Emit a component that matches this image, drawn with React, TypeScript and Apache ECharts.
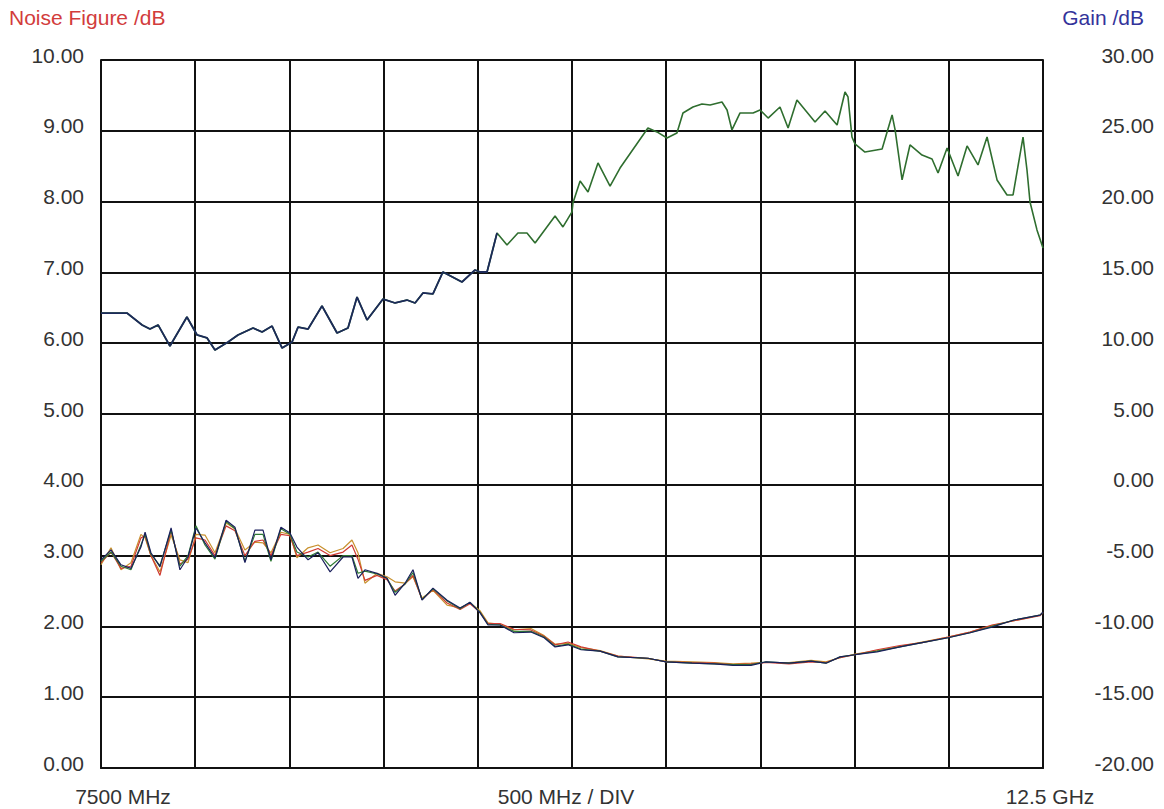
import React, { useEffect, useRef } from "react";
import * as echarts from "echarts";

// Noise figure traces (left axis, dB) on a shared frequency grid (MHz)
const nfFreqs = [7500,7553,7606,7659,7712,7734,7765,7813,7872,7919,7962,8004,8052,8105,8164,8211,8264,8317,8360,8402,8455,8503,8540,8599,8652,8716,8785,8832,8864,8901,8965,9018,9061,9114,9156,9204,9262,9337,9406,9459,9512,9554,9618,9692,9782,9852,9910,9979,10048,10149,10244,10403,10499,10637,10754,10855,10950,11030,11152,11269,11348,11423,11502,11619,11741,11858,11996,12113,12229,12346,12484,12500];
const nfNavy = [2.94,3.08,2.87,2.82,3.12,3.33,3.04,2.84,3.39,2.80,2.98,3.39,3.18,2.97,3.50,3.40,2.90,3.36,3.36,2.94,3.40,3.32,3.12,2.94,3.04,2.77,2.98,2.98,2.68,2.80,2.75,2.68,2.44,2.61,2.80,2.37,2.54,2.37,2.26,2.34,2.19,2.02,2.02,1.91,1.92,1.84,1.71,1.74,1.67,1.65,1.57,1.55,1.50,1.48,1.47,1.45,1.45,1.50,1.48,1.51,1.48,1.57,1.60,1.64,1.71,1.77,1.84,1.91,1.99,2.09,2.16,2.20];
const nfOrange = [2.87,3.11,2.80,2.90,3.30,3.25,3.00,2.77,3.29,2.94,2.90,3.30,3.29,3.04,3.46,3.38,3.08,3.19,3.18,3.04,3.33,3.30,2.97,3.11,3.15,3.04,3.10,3.22,3.04,2.61,2.75,2.70,2.63,2.61,2.70,2.40,2.51,2.30,2.26,2.33,2.22,2.05,2.03,1.95,1.97,1.87,1.75,1.76,1.70,1.66,1.58,1.54,1.51,1.50,1.49,1.47,1.48,1.49,1.49,1.52,1.50,1.56,1.61,1.66,1.72,1.78,1.85,1.92,2.01,2.08,2.16,2.19];
const nfRed = [2.90,3.05,2.82,2.85,3.25,3.28,3.00,2.72,3.35,2.88,2.95,3.25,3.22,3.00,3.42,3.35,3.00,3.20,3.22,3.00,3.30,3.28,3.00,3.05,3.10,3.00,3.05,3.15,2.95,2.65,2.72,2.66,2.50,2.60,2.72,2.38,2.52,2.33,2.24,2.32,2.20,2.04,2.04,1.96,1.95,1.86,1.74,1.78,1.71,1.65,1.58,1.55,1.50,1.49,1.48,1.46,1.47,1.49,1.47,1.50,1.49,1.56,1.60,1.67,1.73,1.77,1.85,1.92,2.02,2.08,2.15,2.20];
const nfGreen = [2.92,3.05,2.85,2.80,3.15,3.30,3.02,2.86,3.36,2.85,3.00,3.42,3.15,2.95,3.48,3.38,2.92,3.30,3.30,2.92,3.38,3.30,3.05,2.98,3.05,2.85,3.00,3.00,2.75,2.78,2.74,2.68,2.48,2.60,2.76,2.38,2.53,2.36,2.25,2.34,2.20,2.03,2.02,1.93,1.93,1.85,1.72,1.75,1.68,1.65,1.57,1.55,1.50,1.48,1.47,1.46,1.46,1.50,1.48,1.51,1.48,1.57,1.60,1.65,1.71,1.77,1.84,1.91,2.00,2.09,2.16,2.20];

// Gain trace (right axis, dB)
const gainFreqs = [7500,7638,7718,7760,7803,7866,7956,8010,8063,8105,8174,8227,8307,8355,8408,8461,8514,8546,8599,8673,8753,8811,8859,8912,8997,9061,9124,9167,9209,9262,9315,9416,9485,9512,9549,9602,9655,9713,9761,9804,9910,9952,10000,10005,10043,10085,10138,10202,10255,10403,10451,10504,10557,10589,10642,10690,10733,10796,10823,10849,10892,10961,10998,11041,11104,11147,11194,11290,11343,11407,11449,11465,11486,11502,11555,11646,11699,11715,11752,11794,11858,11911,11943,11991,12049,12097,12155,12203,12256,12309,12341,12394,12415,12431,12468,12500];
const gainValues = [12.13,12.13,11.29,11.0,11.29,9.80,11.85,10.58,10.37,9.52,10.08,10.58,11.07,10.79,11.21,9.66,10.08,11.14,11.0,12.63,10.72,11.07,13.26,11.64,13.12,12.84,13.05,12.84,13.55,13.48,15.03,14.32,15.17,15.03,15.03,17.78,16.94,17.78,17.78,17.08,18.98,18.21,19.27,19.9,21.45,20.68,22.73,21.10,22.37,25.20,24.92,24.49,24.84,26.26,26.68,26.89,26.82,27.03,26.47,25.06,26.26,26.26,26.47,25.90,26.68,25.20,27.18,25.62,26.40,25.41,27.74,27.39,24.56,24.07,23.50,23.71,26.12,25.06,21.53,24.0,23.29,23.01,22.02,23.79,21.81,23.93,22.59,24.56,21.53,20.47,20.47,24.56,22.23,19.97,18.0,16.72];

const xLabels = ["7500 MHz", "500 MHz / DIV", "12.5 GHz"];
const leftTitle = "Noise Figure /dB";
const rightTitle = "Gain /dB";

const FONT = "'Liberation Sans', Arial, sans-serif";
const FS = 21;

const pairs = (xs: number[], ys: number[]) => xs.map((x, i) => [x, ys[i]]);

export default function App() {
  const ref = useRef<HTMLDivElement>(null);
  useEffect(() => {
    if (!ref.current) return;
    const chart = echarts.init(ref.current, null, { renderer: "svg" });
    const gainData = pairs(gainFreqs, gainValues);
    const lineSeries = (name: string, data: any, color: string, yAxisIndex: number, width: number) => ({
      name,
      type: "line",
      data,
      yAxisIndex,
      symbol: "none",
      lineStyle: { color, width },
      itemStyle: { color },
      z: 3,
    });
    chart.setOption({
      animation: false,
      backgroundColor: "#ffffff",
      grid: { left: 101, right: 121, top: 60, bottom: 41, containLabel: false },
      xAxis: {
        type: "value",
        min: 7500,
        max: 12500,
        interval: 500,
        axisLine: { show: true, onZero: false, lineStyle: { color: "#111", width: 2 } },
        axisTick: { show: false },
        axisLabel: { show: false },
        splitLine: { show: true, lineStyle: { color: "#111", width: 2 } },
      },
      yAxis: [
        {
          type: "value",
          min: 0,
          max: 10,
          interval: 1,
          position: "left",
          axisLine: { show: true, lineStyle: { color: "#111", width: 2 } },
          axisTick: { show: false },
          axisLabel: {
            color: "#333",
            fontFamily: FONT,
            fontSize: FS,
            margin: 17,
            verticalAlign: "bottom",
            lineHeight: 10,
            formatter: (v: number) => v.toFixed(2),
          },
          splitLine: { show: true, lineStyle: { color: "#111", width: 2 } },
        },
        {
          type: "value",
          min: -20,
          max: 30,
          interval: 5,
          position: "right",
          axisLine: { show: true, lineStyle: { color: "#111", width: 2 } },
          axisTick: { show: false },
          axisLabel: {
            color: "#333",
            fontFamily: FONT,
            fontSize: FS,
            margin: 111,
            align: "right",
            verticalAlign: "bottom",
            lineHeight: 10,
            formatter: (v: number) => v.toFixed(2),
          },
          splitLine: { show: false },
        },
      ],
      graphic: [
        { type: "text", left: 9, top: 7, style: { text: leftTitle, fill: "#d23c3c", font: `${FS}px ${FONT}` } },
        { type: "text", right: 20, top: 7, style: { text: rightTitle, fill: "#33339a", font: `${FS}px ${FONT}` } },
        { type: "text", x: 123, y: 796, style: { text: xLabels[0], fill: "#333", font: `${FS}px ${FONT}`, align: "center", verticalAlign: "middle" } },
        { type: "text", x: 566, y: 796, style: { text: xLabels[1], fill: "#333", font: `${FS}px ${FONT}`, align: "center", verticalAlign: "middle" } },
        { type: "text", x: 1050, y: 796, style: { text: xLabels[2], fill: "#333", font: `${FS}px ${FONT}`, align: "center", verticalAlign: "middle" } },
      ],
      series: [
        lineSeries("Gain", gainData, "#2f6e2f", 1, 1.6),
        lineSeries("Gain (ref)", gainData.slice(0, 36), "#1c2a5a", 1, 1.8),
        lineSeries("NF orange", pairs(nfFreqs, nfOrange), "#c8912e", 0, 1.2),
        lineSeries("NF red", pairs(nfFreqs, nfRed), "#cf3a32", 0, 1.2),
        lineSeries("NF green", pairs(nfFreqs, nfGreen), "#2f7a34", 0, 1.2),
        lineSeries("NF navy", pairs(nfFreqs, nfNavy), "#1a1f5c", 0, 1.2),
      ],
    });
    return () => chart.dispose();
  }, []);
  return (
    <div
      ref={ref}
      style={{ position: "fixed", left: 0, top: 0, width: 1164, height: 809, background: "#fff" }}
    />
  );
}
